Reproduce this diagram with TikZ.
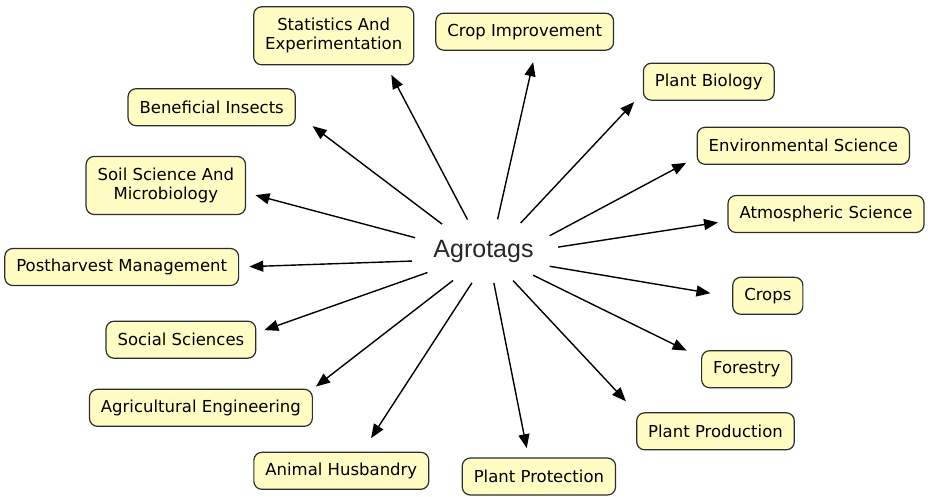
\documentclass[tikz,border=0pt]{standalone}
\usepackage{fontspec}
\setmainfont{DejaVu Sans}
\newfontfamily\hubfont{Liberation Sans}
\usetikzlibrary{arrows.meta,shapes.geometric}
\definecolor{rim}{RGB}{45,45,45}
\definecolor{cream}{RGB}{255,252,196}

\begin{document}
\begin{tikzpicture}[x=1pt,y=-1pt,box/.style={draw=rim,line width=1.2pt,rounded corners=8pt,fill=cream,font=\fontsize{16.5}{19}\selectfont,align=center,inner xsep=11.5pt,inner ysep=0pt,minimum height=37pt,outer sep=0pt},hub/.style={ellipse,minimum width=150pt,minimum height=64pt,inner sep=0pt,font=\hubfont\fontsize{25}{30}\selectfont,text=black!85},arrow/.style={-{Triangle[length=14pt,width=11pt]},line width=1.4pt,draw=black}]
\useasboundingbox (0,0) rectangle (928,496);
\node[hub] (agro) at (483.5,251) {Agrotags};
\node[box,minimum height=58pt] (stats) at (333.7,35.8) {Statistics And\\Experimentation};
\node[box] (crop) at (524.7,31.7) {Crop Improvement};
\node[box] (biology) at (708.8,81.7) {Plant Biology};
\node[box] (environ) at (803.3,145.8) {Environmental Science};
\node[box] (atmos) at (826,214) {Atmospheric Science};
\node[box] (crops) at (767.8,295.8) {Crops};
\node[box] (forestry) at (746.7,369.2) {Forestry};
\node[box] (production) at (715.5,431.3) {Plant Production};
\node[box] (protection) at (538.9,476.5) {Plant Protection};
\node[box] (animal) at (341.3,470.8) {Animal Husbandry};
\node[box] (engineering) at (200.9,407.8) {Agricultural Engineering};
\node[box] (social) at (180.9,339.7) {Social Sciences};
\node[box] (postharvest) at (121.7,267) {Postharvest Management};
\node[box,minimum height=58pt] (soil) at (165.8,185.5) {Soil Science And\\Microbiology};
\node[box] (insects) at (211.7,107.2) {Beneficial Insects};
\draw[arrow,shorten >=21.7pt] (agro.147)--(insects.-4); \draw[arrow,shorten >=11.3pt] (agro.117)--(stats.-29.5); \draw[arrow,shorten >=12.3pt] (agro.66.5)--(crop.-59);
\draw[arrow,shorten >=13.6pt] (agro.37.6)--(biology.189.5); \draw[arrow,shorten >=12.4pt] (agro.13)--(environ.186.3); \draw[arrow,shorten >=10.1pt] (agro.3.3)--(atmos.184.5);
\draw[arrow,shorten >=22.6pt] (agro.-13.3)--(crops.182); \draw[arrow,shorten >=16.7pt] (agro.-26.7)--(forestry.166.6); \draw[arrow,shorten >=15.8pt] (agro.-45.8)--(production.north west);
\draw[arrow,shorten >=10pt] (agro.-72.3)--(protection.119.7); \draw[arrow,shorten >=16.9pt] (agro.-110.4)--(animal.42.3); \draw[arrow,shorten >=4.5pt] (agro.-136.2)--(engineering.north east);
\draw[arrow,shorten >=9.1pt] (agro.-159.4)--(social.5.8); \draw[arrow,shorten >=10.7pt] (agro.-172.6)--(postharvest.east); \draw[arrow,shorten >=10.3pt] (agro.169)--(soil.-5.8);
\end{tikzpicture}
\end{document}
